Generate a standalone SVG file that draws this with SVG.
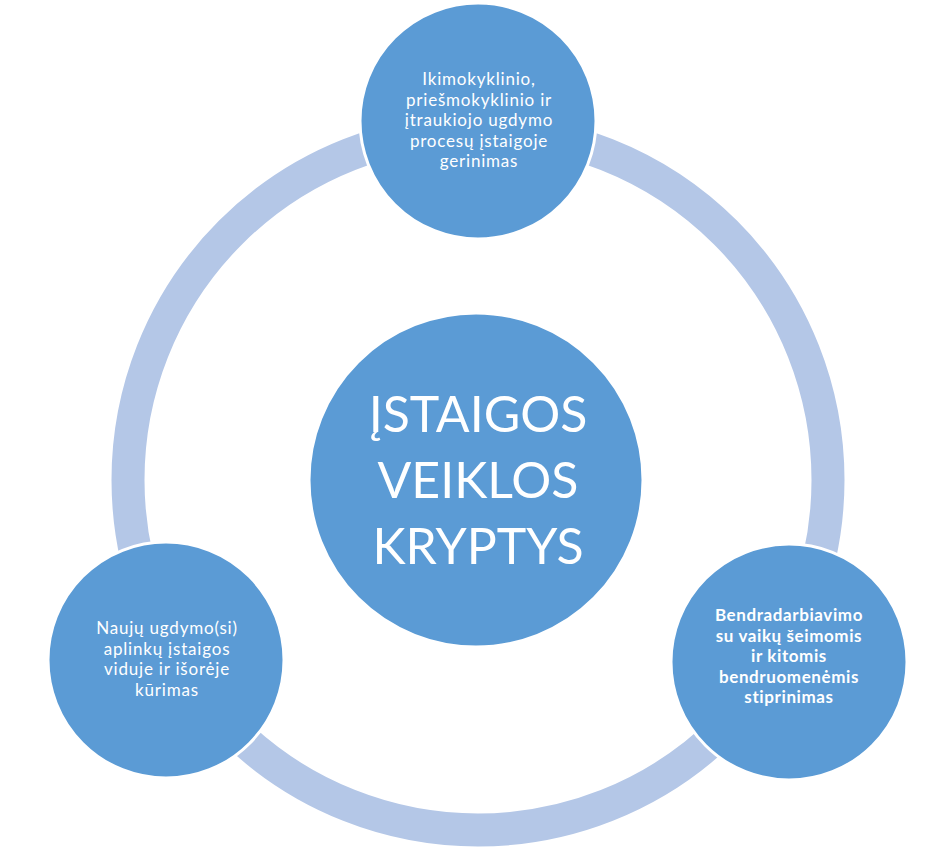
<svg xmlns="http://www.w3.org/2000/svg" width="940" height="862" viewBox="0 0 940 862">
<style>
.node { fill: #5B9BD5; stroke: #FFFFFF; stroke-width: 3; }
.ring { fill: none; stroke: #B4C7E7; stroke-width: 33; }
.t { fill: #FFFFFF; font-family: Lato, "Open Sans", "Liberation Sans", sans-serif; text-anchor: middle; }
.sm { font-size: 17px; letter-spacing: 0.8px; }
.b { font-weight: bold; letter-spacing: 0.6px; }
.big { font-size: 50px; }
</style>
<rect width="940" height="862" fill="#FFFFFF"/>
<g id="connectors">
<circle class="ring" cx="478" cy="480" r="350"/>
</g>
<g id="center">
<circle class="node" cx="476" cy="480" r="167"/>
<text class="t big" x="478" y="432">ĮSTAIGOS</text>
<text class="t big" x="478" y="498">VEIKLOS</text>
<text class="t big" x="478" y="564">KRYPTYS</text>
</g>
<g id="top">
<circle class="node" cx="478" cy="121" r="118"/>
<text class="t sm" x="479" y="85">Ikimokyklinio,</text>
<text class="t sm" x="479" y="105.5">priešmokyklinio ir</text>
<text class="t sm" x="479" y="126">įtraukiojo ugdymo</text>
<text class="t sm" x="479" y="146.5">procesų įstaigoje</text>
<text class="t sm" x="479" y="167">gerinimas</text>
</g>
<g id="left">
<circle class="node" cx="166" cy="660" r="118"/>
<text class="t sm" x="167" y="634">Naujų ugdymo(si)</text>
<text class="t sm" x="167" y="654.5">aplinkų įstaigos</text>
<text class="t sm" x="167" y="675">viduje ir išorėje</text>
<text class="t sm" x="167" y="695.5">kūrimas</text>
</g>
<g id="right">
<circle class="node" cx="789" cy="662" r="118"/>
<text class="t sm b" x="789" y="621">Bendradarbiavimo</text>
<text class="t sm b" x="789" y="641.5">su vaikų šeimomis</text>
<text class="t sm b" x="789" y="662">ir kitomis</text>
<text class="t sm b" x="789" y="682.5">bendruomenėmis</text>
<text class="t sm b" x="789" y="703">stiprinimas</text>
</g>
</svg>
